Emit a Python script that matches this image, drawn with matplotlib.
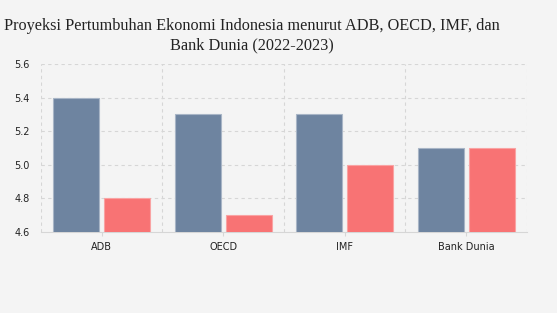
import matplotlib.pyplot as plt
import numpy as np

categories = ['ADB', 'OECD', 'IMF', 'Bank Dunia']
proj_2022 = [5.4, 5.3, 5.3, 5.1]
proj_2023 = [4.8, 4.7, 5.0, 5.1]
yticks = [4.6, 4.8, 5.0, 5.2, 5.4, 5.6]

bg = '#f4f4f4'
fig = plt.figure(figsize=(5.57, 3.13), dpi=100, facecolor=bg)
ax = fig.add_axes([0.0736, 0.259, 0.8724, 0.5365], facecolor=bg)

x = np.arange(len(categories))
w = 0.38
ax.bar(x - 0.21, proj_2022, width=w, bottom=0, color='#6e84a0',
       edgecolor='#a8b5c6', linewidth=0.8, zorder=3)
ax.bar(x + 0.21, proj_2023, width=w, bottom=0, color='#f87374',
       edgecolor='#f9a3a3', linewidth=0.8, zorder=3)

ax.set_xlim(-0.5, len(categories) - 0.5)
ax.set_ylim(4.6, 5.6)
ax.set_yticks(yticks)
ax.set_yticklabels(['%.1f' % v for v in yticks], fontsize=7, family='DejaVu Sans')
ax.set_xticks(x)
ax.set_xticklabels(categories, fontsize=7, family='DejaVu Sans')

# grid: horizontal at ticks, vertical at category boundaries
for v in yticks[1:]:
    ax.axhline(v, color='#d6d6d6', linestyle=(0, (3, 3)), linewidth=0.8, zorder=1)
for b in np.arange(-0.5, len(categories) + 0.5, 1):
    ax.axvline(b, color='#d6d6d6', linestyle=(0, (3, 3)), linewidth=0.8, zorder=1)

for s in ['top', 'right', 'left']:
    ax.spines[s].set_visible(False)
ax.spines['bottom'].set_color('#d6d6d6')
ax.tick_params(axis='y', length=0, pad=8, colors='#222222')
ax.tick_params(axis='x', length=3, color='#d6d6d6', pad=4, colors='#222222')
for lbl in ax.get_xticklabels():
    lbl.set_color('#222222')

fig.text(0.452, 0.885, 'Proyeksi Pertumbuhan Ekonomi Indonesia menurut ADB, OECD, IMF, dan\nBank Dunia (2022-2023)',
         ha='center', va='center', fontsize=11.7, family='Liberation Serif',
         color='#222222', linespacing=1.3)

fig.savefig('out.png', dpi=100, facecolor=bg)
